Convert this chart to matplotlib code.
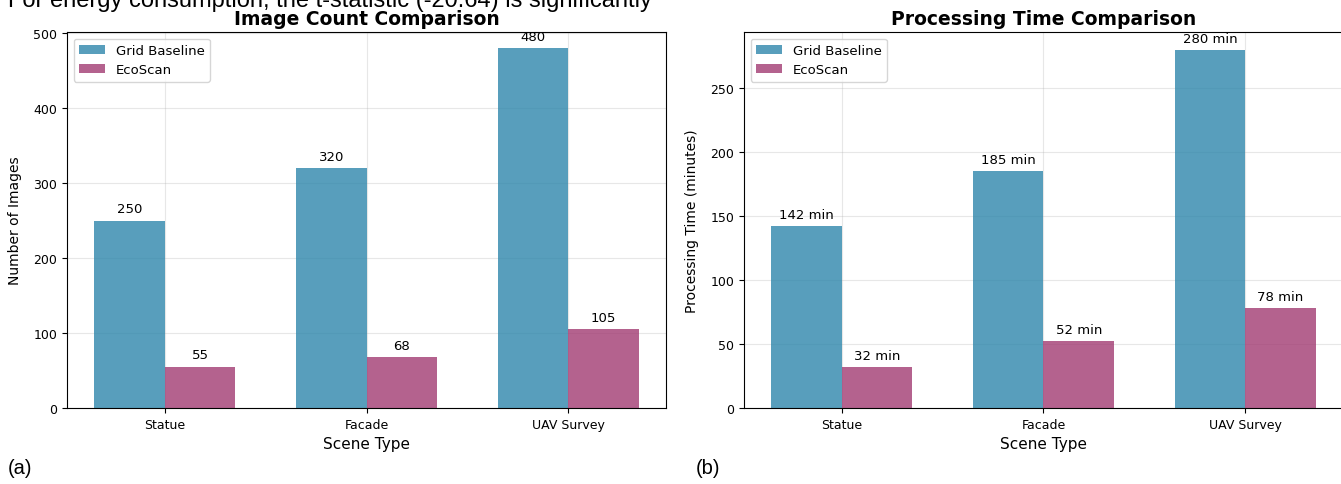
import matplotlib
matplotlib.use('Agg')
import matplotlib.pyplot as plt
import numpy as np

# data
scenes = ['Statue', 'Facade', 'UAV Survey']
img_grid = [250, 320, 480]
img_eco = [55, 68, 105]
time_grid = [142, 185, 280]
time_eco = [32, 52, 78]

c_grid = '#2E86AB'
c_eco = '#A23B72'

fig = plt.figure(figsize=(13.41, 4.85), dpi=100)
ax1 = fig.add_axes([0.0500, 0.1567, 0.4467, 0.7753])
ax2 = fig.add_axes([0.5548, 0.1567, 0.4467, 0.7753])

x = np.arange(len(scenes))
w = 0.35


def panel(ax, a, b, title, ylabel, fmt, ymax):
    ax.bar(x - w / 2, a, w, color=c_grid, alpha=0.8, label='Grid Baseline')
    ax.bar(x + w / 2, b, w, color=c_eco, alpha=0.8, label='EcoScan')
    off = max(a) * 0.015
    for xi, v in zip(x - w / 2, a):
        ax.text(xi, v + off, fmt.format(v), ha='center', va='bottom', fontsize=9.5)
    for xi, v in zip(x + w / 2, b):
        ax.text(xi, v + off, fmt.format(v), ha='center', va='bottom', fontsize=9.5)
    ax.set_xticks(x)
    ax.set_xticklabels(scenes, fontsize=9)
    ax.tick_params(axis='y', labelsize=9)
    ax.set_xlabel('Scene Type', fontsize=11)
    ax.set_ylabel(ylabel, fontsize=10, labelpad=8)
    ax.set_title(title, fontsize=13.5, fontweight='bold', pad=6)
    ax.set_ylim(0, ymax)
    ax.grid(True, alpha=0.3)
    ax.set_axisbelow(True)
    ax.legend(loc='upper left', fontsize=9.5)


panel(ax1, img_grid, img_eco, 'Image Count Comparison', 'Number of Images', '{}', 502)
panel(ax2, time_grid, time_eco, 'Processing Time Comparison', 'Processing Time (minutes)', '{} min', 294)

fig.text(0.006, 1 - 7.5 / 485, 'For energy consumption, the t-statistic (-20.64) is significantly',
         fontsize=17, family='Liberation Sans', va='baseline')
fig.text(0.006, 1 - 474 / 485, '(a)', fontsize=14.5, family='Liberation Sans', va='baseline')
fig.text(0.519, 1 - 474 / 485, '(b)', fontsize=14.5, family='Liberation Sans', va='baseline')

fig.savefig('out.png', dpi=100)
